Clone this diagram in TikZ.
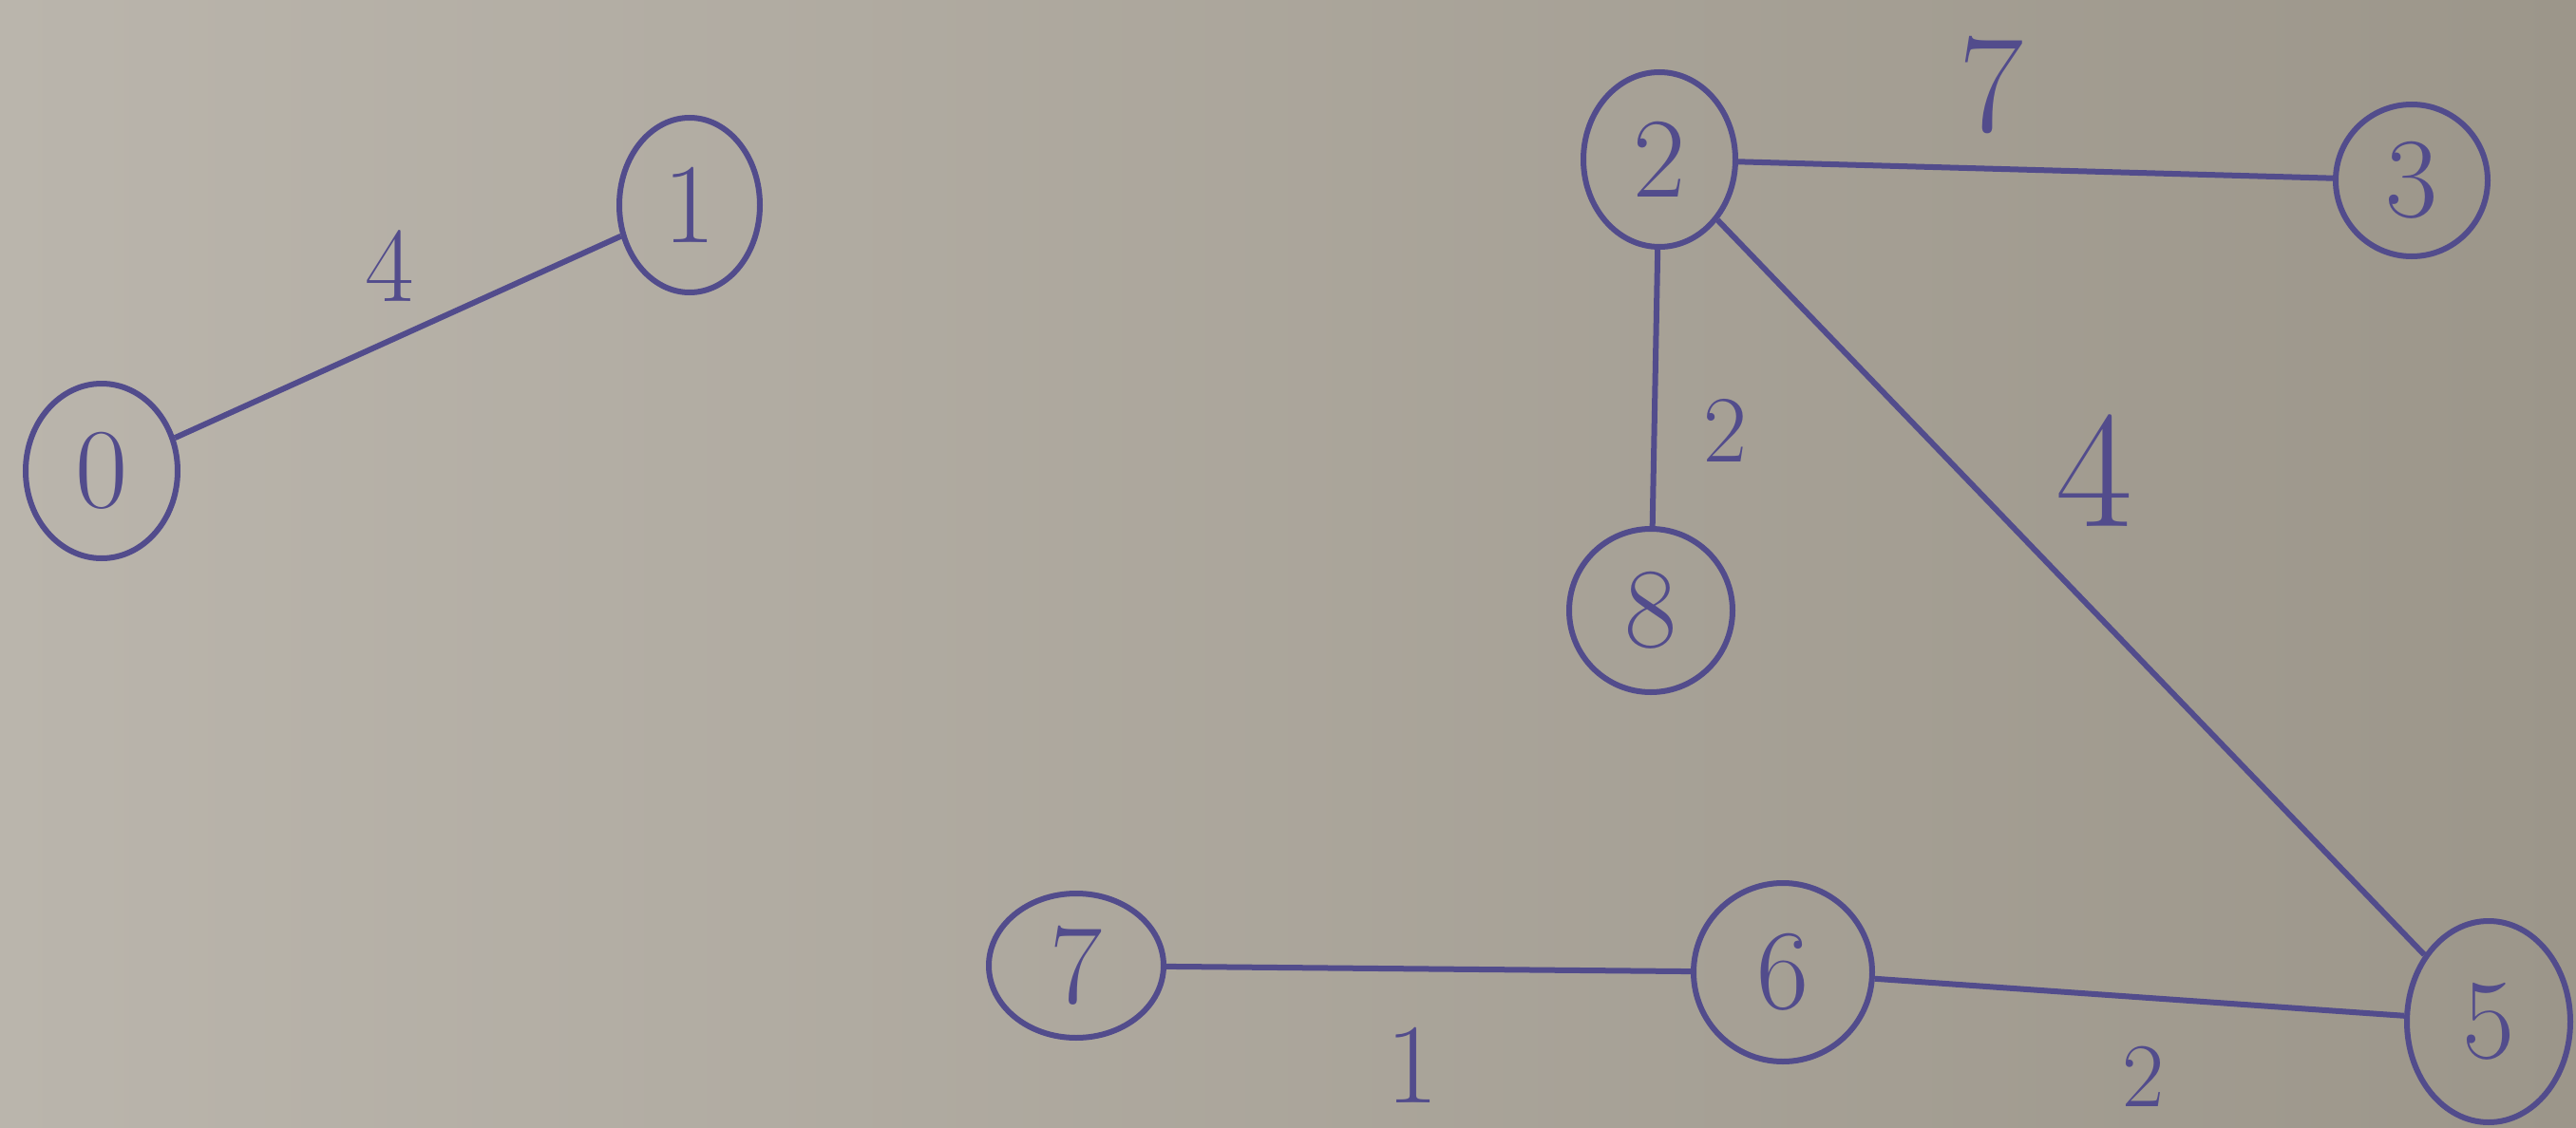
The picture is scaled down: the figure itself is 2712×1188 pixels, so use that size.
\documentclass[tikz,border=0pt]{standalone}
\usetikzlibrary{shapes.geometric}

\definecolor{paper}{RGB}{186,181,172}
\definecolor{paperdark}{RGB}{156,150,138}
\definecolor{ink}{RGB}{82,76,140}

\tikzset{every picture/.style={line width=1.5pt}}
\tikzset{
  vertex/.style={ellipse,draw=ink,text=ink,inner sep=0pt,minimum width=40pt,minimum height=46pt,font=\fontsize{30}{30}\selectfont},
  weight/.style={text=ink,inner sep=0.75pt},
  edge/.style={draw=ink}
}

\begin{document}
\begin{tikzpicture}[x=0.25pt,y=0.25pt,yscale=-1,xscale=1]
	%paper, sets the whole page at 2712 x 1188
	\shade [shading angle=135,left color=paper,right color=paperdark] (0,0) rectangle (2712,1188);
	\useasboundingbox (0,0) rectangle (2712,1188);

	% Vertices
	\node [vertex] (n0) at (107,496) {0};
	\node [vertex,minimum width=37pt] (n1) at (726,216) {1};
	\node [vertex] (n2) at (1747,168) {2};
	\node [vertex,minimum height=40pt] (n3) at (2539,190) {3};
	\node [vertex,minimum width=43pt,minimum height=43pt] (n8) at (1738,643) {8};
	\node [vertex,minimum width=46pt,minimum height=38pt] (n7) at (1133,1017) {7};
	\node [vertex,minimum width=47pt,minimum height=47pt] (n6) at (1877,1024) {6};
	\node [vertex,minimum width=43pt,minimum height=53pt] (n5) at (2620,1076) {5};

	% Edges
	\draw [edge] (n0) -- (n1);
	\draw [edge] (n2) -- (n3);
	\draw [edge] (n2) -- (n8);
	\draw [edge] (n2) -- (n5);
	\draw [edge] (n7) -- (n6);
	\draw [edge] (n6) -- (n5);

	% Weights
	\node [weight,font=\fontsize{28}{28}\selectfont] (w01) at (410,280) {4};
	\node [weight,font=\fontsize{37}{37}\selectfont] (w23) at (2096,90) {7};
	\node [weight,font=\fontsize{25}{25}\selectfont] (w28) at (1816,453) {2};
	\node [weight,font=\fontsize{44}{44}\selectfont] (w25) at (2205,496) {4};
	\node [weight,font=\fontsize{30}{30}\selectfont] (w76) at (1487,1122) {1};
	\node [weight,font=\fontsize{24}{24}\selectfont] (w65) at (2257,1134) {2};
\end{tikzpicture}
\end{document}
